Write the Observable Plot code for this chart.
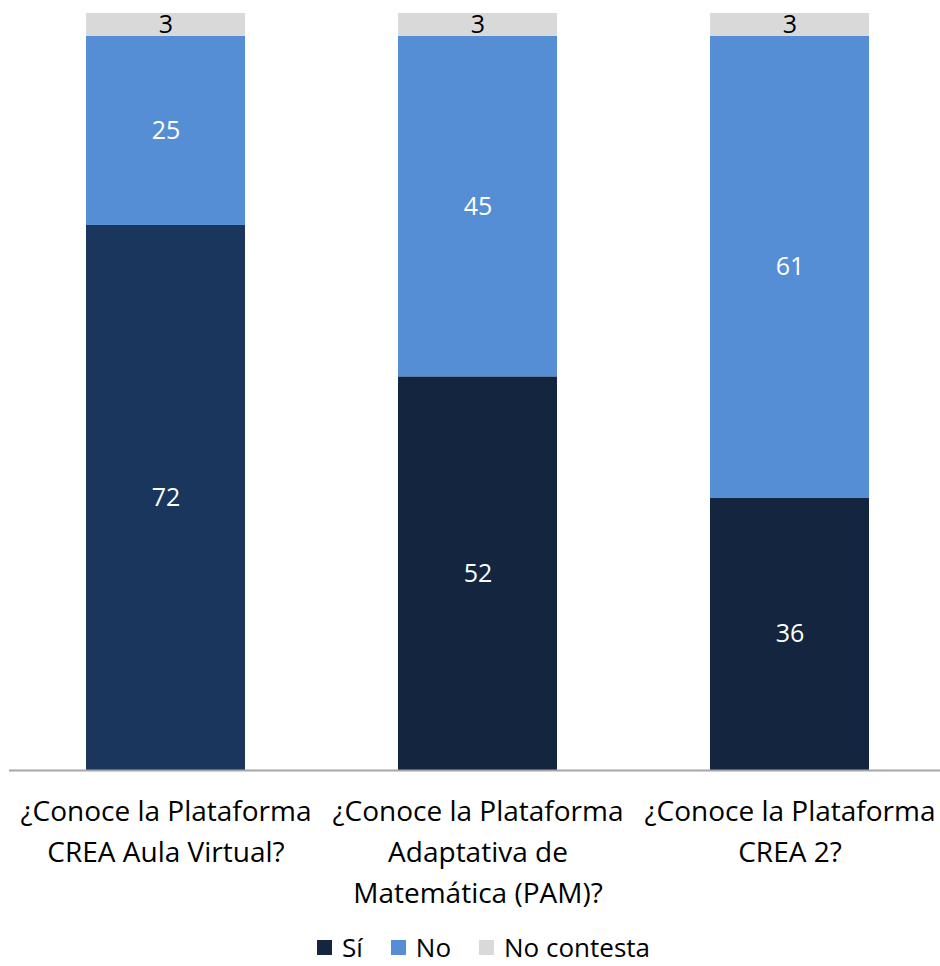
<!DOCTYPE html>
<html>
<head>
<meta charset="utf-8">
<script src="https://cdn.jsdelivr.net/npm/d3@7"></script>
<script src="https://cdn.jsdelivr.net/npm/@observablehq/plot@0.6"></script>
<style>
  html, body { margin: 0; background: #fff; font-family: "Open Sans", sans-serif; overflow: hidden; }
  #chart svg { display: block; }
  .legend { display: flex; justify-content: center; align-items: center; height: 38px; line-height: 38px; font-size: 26px; color: #000; margin-left: 27px; }
  .legend .item { display: flex; align-items: center; margin: 0 14px; }
  .legend .sw { width: 15px; height: 15px; margin-right: 10px; display: inline-block; }
</style>
</head>
<body>
<div id="chart"></div>
<script>
const categories = [
  "¿Conoce la Plataforma\nCREA Aula Virtual?",
  "¿Conoce la Plataforma\nAdaptativa de\nMatemática (PAM)?",
  "¿Conoce la Plataforma\nCREA 2?"
];
const series = ["Sí", "No", "No contesta"];
const siValues = [72, 52, 36];
const noValues = [25, 45, 61];
const ncValues = [3, 3, 3];
const siColors = ["#1b365d", "#13253f", "#13253f"];
const noColor = "#558ed5";
const ncColor = "#d9d9d9";
const legendColors = ["#13253f", noColor, ncColor];

const rows = [];
categories.forEach((c, i) => {
  rows.push({cat: c, series: "Sí", value: siValues[i], fill: siColors[i], textFill: "#fff"});
  rows.push({cat: c, series: "No", value: noValues[i], fill: noColor, textFill: "#fff"});
  rows.push({cat: c, series: "No contesta", value: ncValues[i], fill: ncColor, textFill: "#000"});
});

const stackOpts = {x: "cat", y: "value", z: "series", order: series};

const chart = Plot.plot({
  width: 940,
  height: 928,
  marginTop: 13,
  marginBottom: 158,
  marginLeft: 9,
  marginRight: 0,
  style: {fontFamily: "Open Sans, sans-serif", background: "#fff"},
  x: {domain: categories, range: [8.5, 947.5], paddingInner: 0.489, paddingOuter: 0.245, label: null},
  y: {domain: [0, 100], axis: null},
  color: {type: "identity"},
  marks: [
    Plot.barY(rows, Plot.stackY({...stackOpts, fill: "fill", inset: 0})),
    Plot.text(rows, Plot.stackY({...stackOpts, text: d => String(d.value), fill: "textFill", fontSize: 25})),
    Plot.ruleY([0], {stroke: "#a6a6a6", strokeWidth: 2}),
    Plot.axisX({tickSize: 0, tickPadding: 22, fontSize: 28, lineHeight: 1.45, fill: "#000", label: null})
  ]
});
document.getElementById("chart").appendChild(chart);

const legend = document.createElement("div");
legend.className = "legend";
series.forEach((s, i) => {
  const item = document.createElement("span");
  item.className = "item";
  const sw = document.createElement("span");
  sw.className = "sw";
  sw.style.background = legendColors[i];
  item.appendChild(sw);
  item.appendChild(document.createTextNode(s));
  legend.appendChild(item);
});
document.body.appendChild(legend);
</script>
</body>
</html>
